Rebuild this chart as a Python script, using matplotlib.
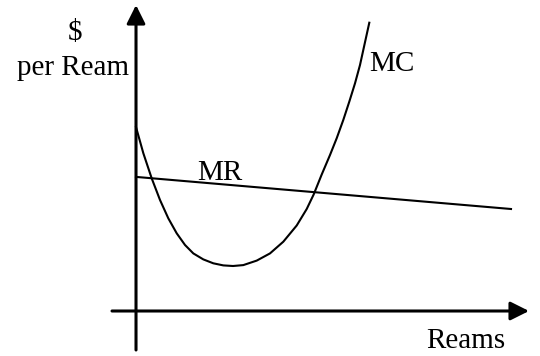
import matplotlib
matplotlib.use("Agg")
import matplotlib.pyplot as plt

# Marginal cost curve (quantity, $ per ream)
mc_q = [0.0, 0.195, 0.419, 0.64, 0.861, 1.085, 1.307, 1.528, 1.795, 2.061, 2.328, 2.587,
        2.861, 3.219, 3.573, 3.928, 4.285, 4.552, 4.736, 4.952, 5.173, 5.352, 5.528,
        5.688, 5.84, 5.973, 6.08, 6.221]
mc_p = [6.13, 5.26, 4.42, 3.70, 3.09, 2.59, 2.20, 1.92, 1.72, 1.59, 1.52, 1.50,
        1.53, 1.68, 1.92, 2.31, 2.85, 3.40, 3.88, 4.55, 5.20, 5.76, 6.37,
        6.98, 7.59, 8.20, 8.81, 9.61]

# Marginal revenue line
mr_q = [0.0, 10.0]
mr_p = [4.47, 3.40]

# Axis extents
x_axis = [-0.64, 10.48]
y_axis = [-1.30, 10.20]

labels = {"y_top": "$", "y": "per Ream", "x": "Reams", "mc": "MC", "mr": "MR"}

plt.rcParams['font.family'] = ['Liberation Serif', 'DejaVu Serif']

fig = plt.figure(figsize=(5.4, 3.56), dpi=100)
ax = fig.add_axes([0, 0, 1, 1])
ax.set_xlim(-3.627, 10.773)
ax.set_ylim(-1.5, 10.367)
ax.axis('off')

arrow = dict(arrowstyle='-|>,head_length=0.75,head_width=0.375', lw=2.2, color='black',
             mutation_scale=15, shrinkA=0, shrinkB=0)
# y axis
ax.annotate('', xy=(0, y_axis[1]), xytext=(0, y_axis[0]), arrowprops=arrow)
# x axis
ax.annotate('', xy=(x_axis[1], 0), xytext=(x_axis[0], 0), arrowprops=arrow)

ax.plot(mc_q, mc_p, color='black', lw=1.5, solid_joinstyle='round')
ax.plot(mr_q, mr_p, color='black', lw=1.5)

fs = 21
ax.text(-1.63, 9.03, labels["y_top"], ha='center', va='baseline', fontsize=fs)
ax.text(-1.69, 7.87, labels["y"], ha='center', va='baseline', fontsize=fs)
ax.text(2.24, 4.37, labels["mr"], ha='center', va='baseline', fontsize=fs)
ax.text(6.83, 8.0, labels["mc"], ha='center', va='baseline', fontsize=fs)
ax.text(8.8, -1.23, labels["x"], ha='center', va='baseline', fontsize=fs)

fig.savefig('out.png', dpi=100)
